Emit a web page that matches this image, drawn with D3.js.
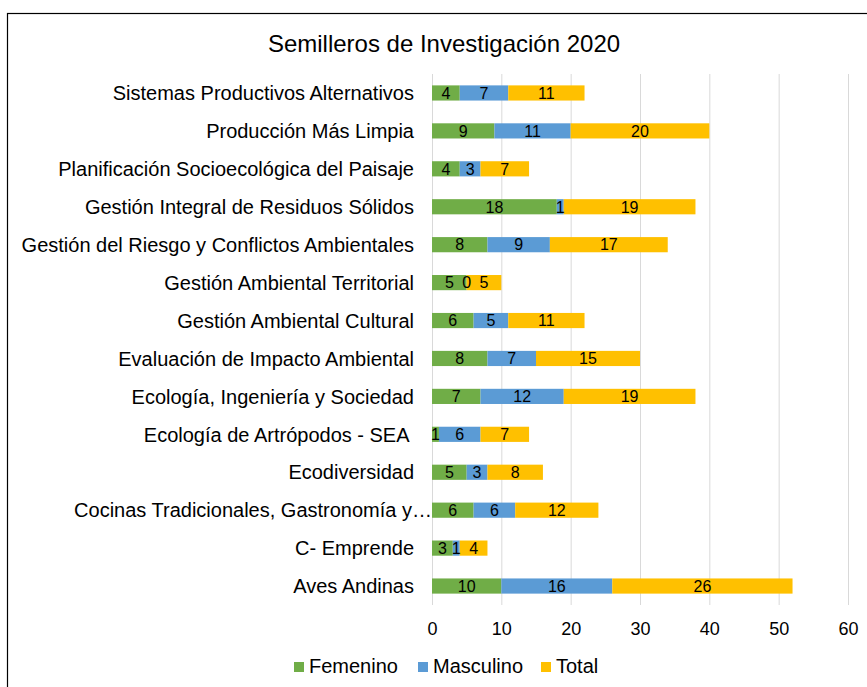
<!DOCTYPE html>
<html>
<head>
<meta charset="utf-8">
<script src="https://cdn.jsdelivr.net/npm/d3@7"></script>
<style>
  body { margin: 0; background: #fff; }
  svg { font-family: "Liberation Sans", Arial, sans-serif; }
</style>
</head>
<body>
<svg id="svg" width="867" height="687"></svg>
<script>
var svg = d3.select("#svg"),
    width = 867,
    height = 687;

// categories from top to bottom
var categories = [
    "Sistemas Productivos Alternativos",
    "Producción Más Limpia",
    "Planificación Socioecológica del Paisaje",
    "Gestión Integral de Residuos Sólidos",
    "Gestión del Riesgo y Conflictos Ambientales",
    "Gestión Ambiental Territorial",
    "Gestión Ambiental Cultural",
    "Evaluación de Impacto Ambiental",
    "Ecología, Ingeniería y Sociedad",
    "Ecología de Artrópodos - SEA ",
    "Ecodiversidad",
    "Cocinas Tradicionales, Gastronomía y…",
    "C- Emprende",
    "Aves Andinas"
];
var femenino  = [4, 9, 4, 18, 8, 5, 6, 8, 7, 1, 5, 6, 3, 10];
var masculino = [7, 11, 3, 1, 9, 0, 5, 7, 12, 6, 3, 6, 1, 16];
var total     = [11, 20, 7, 19, 17, 5, 11, 15, 19, 7, 8, 12, 4, 26];

var seriesNames = ["Femenino", "Masculino", "Total"];
var colors = ["#70AD47", "#5B9BD5", "#FFC000"];
var xTicks = [0, 10, 20, 30, 40, 50, 60];

// outer frame (runs off the right and bottom edges like the original)
svg.append("rect")
    .attr("x", 7.5).attr("y", 13.5)
    .attr("width", 880).attr("height", 700)
    .attr("fill", "none")
    .attr("stroke", "#000")
    .attr("stroke-width", 1.2);

svg.append("text")
    .attr("x", 444).attr("y", 52)
    .attr("text-anchor", "middle")
    .attr("font-size", 24)
    .attr("fill", "#000")
    .text("Semilleros de Investigación 2020");

var x = d3.scaleLinear()
    .domain([0, 60])
    .range([432, 848]);

var y = d3.scaleBand()
    .domain(categories)
    .range([74, 605])
    .paddingInner(0.6)
    .paddingOuter(0.3);

// gridlines
svg.append("g")
    .selectAll("line")
    .data(xTicks)
    .enter()
    .append("line")
    .attr("x1", d => x(d) + 0.5).attr("x2", d => x(d) + 0.5)
    .attr("y1", 74).attr("y2", 605)
    .attr("stroke", "#d9d9d9")
    .attr("stroke-width", 1);

// stack
var rows = categories.map(function(c, i) {
    return { cat: c, Femenino: femenino[i], Masculino: masculino[i], Total: total[i] };
});
var stacked = d3.stack().keys(seriesNames)(rows);

svg.append("g")
    .selectAll("g")
    .data(stacked)
    .enter()
    .append("g")
    .attr("fill", (d, i) => colors[i])
    .selectAll("rect")
    .data(d => d)
    .enter()
    .append("rect")
    .attr("x", d => x(d[0]))
    .attr("y", d => y(d.data.cat))
    .attr("width", d => x(d[1]) - x(d[0]))
    .attr("height", y.bandwidth());

// data labels, drawn on top of all bars
var labels = [];
stacked.forEach(function(s) {
    s.forEach(function(v) { labels.push({ v: v, key: s.key }); });
});
svg.append("g")
    .selectAll("text")
    .data(labels)
    .enter()
    .append("text")
    .attr("x", d => (x(d.v[0]) + x(d.v[1])) / 2)
    .attr("y", d => y(d.v.data.cat) + y.bandwidth() / 2)
    .attr("dy", "0.36em")
    .attr("text-anchor", "middle")
    .attr("font-size", 16)
    .attr("fill", "#000")
    .text(d => d.v.data[d.key]);

// category labels (the truncated one runs up to the axis, as in Excel)
svg.append("g")
    .selectAll("text")
    .data(categories)
    .enter()
    .append("text")
    .attr("x", d => d.endsWith("…") ? x(0) : 414)
    .attr("y", d => y(d) + y.bandwidth() / 2)
    .attr("dy", "0.36em")
    .attr("text-anchor", "end")
    .attr("font-size", 20)
    .attr("fill", "#000")
    .style("white-space", "pre")
    .text(d => d);

// x axis labels
var xAxis = svg.append("g")
    .attr("transform", "translate(0,622)")
    .call(d3.axisBottom(x).tickValues(xTicks).tickSize(0).tickPadding(0));
xAxis.select(".domain").remove();
xAxis.selectAll("text")
    .attr("font-size", 18)
    .attr("font-family", "Liberation Sans, Arial, sans-serif")
    .attr("fill", "#000");

// legend
var legendX = [294, 418, 541];
var legend = svg.append("g")
    .selectAll("g")
    .data(seriesNames)
    .enter()
    .append("g")
    .attr("transform", (d, i) => "translate(" + legendX[i] + ",666)");

legend.append("rect")
    .attr("x", 0).attr("y", -4)
    .attr("width", 10).attr("height", 10)
    .attr("fill", (d, i) => colors[i]);

legend.append("text")
    .attr("x", 15).attr("y", 0)
    .attr("dy", "0.36em")
    .attr("font-size", 20)
    .attr("fill", "#000")
    .text(d => d);
</script>
</body>
</html>
